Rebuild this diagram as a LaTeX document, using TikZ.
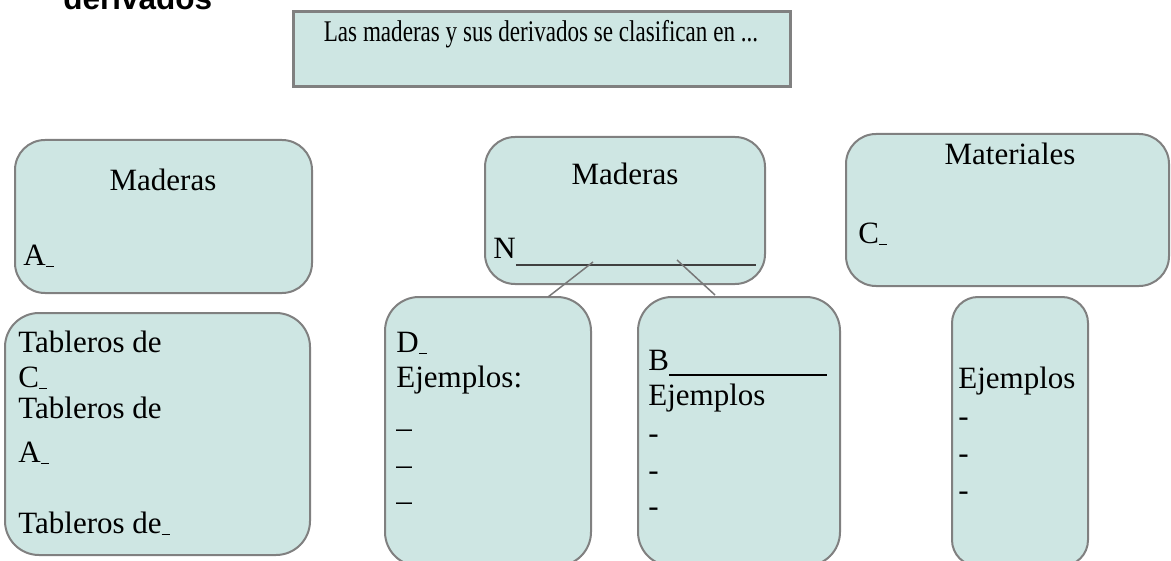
\documentclass[tikz,border=0pt]{standalone}
\usepackage{graphicx}
\usepackage{fontspec}
\setmainfont{Liberation Serif}
\newfontfamily\headfont{Liberation Sans}
\usetikzlibrary{fit}
\definecolor{boxfill}{RGB}{206,230,227}
\definecolor{boxline}{RGB}{128,128,128}
\definecolor{linkgray}{RGB}{120,120,120}
\newcommand{\gapline}[1]{\rule[-1pt]{#1}{0.75pt}}

\begin{document}
\begin{tikzpicture}[x=0.5pt,y=-0.5pt,font=\fontsize{15.5}{18}\selectfont,
  rbox/.style={draw=boxline,fill=boxfill,line width=1pt,rounded corners=#1,inner sep=0pt},
  rbox/.default=15pt,
  txt/.style={anchor=base west,inner sep=0pt},
  head/.style={anchor=base,inner sep=0pt},
  link/.style={draw=linkgray,line width=0.75pt}]
\fill[white] (0,0) rectangle (1171,561);
\useasboundingbox (0,0) rectangle (1171,561);
% title, cut off at the top edge
\node[txt,font=\headfont\bfseries\fontsize{15.75}{18}\selectfont] (title) at (63,10) {derivados};
% question box
\node[draw=boxline,fill=boxfill,line width=1.5pt,inner sep=0pt,fit={(293,12)(790,87)}] (quest) {};
\node[head,font=\fontsize{15}{18}\selectfont] (questT) at (541,42) {\scalebox{0.77}[1]{Las maderas y sus derivados se clasifican en ...}};
% upper row
\node[rbox,fit={(15,140)(312,293)}] (madA) {};
\node[head] (madAT) at (163,191) {Maderas};
\node[txt] (madAL) at (23,265) {A\gapline{4pt}};
\node[rbox,fit={(485,137)(765,284)}] (madN) {};
\node[head] (madNT) at (625,185) {Maderas};
\node[txt] (madNL) at (493,258) {N\textcolor{darkgray}{\rule[-4pt]{120pt}{1pt}}};
\node[rbox,fit={(846,134)(1169,286)}] (mater) {};
\node[head] (materT) at (1010,165) {Materiales};
\node[txt] (materL) at (858,243) {C\gapline{4pt}};
% lower row
\node[rbox=17pt,fit={(5,313)(310,555)}] (tabl) {};
\node[txt] (tabl1) at (18,352) {Tableros de};
\node[txt] (tabl2) at (18,387) {C\gapline{4pt}};
\node[txt] (tabl3) at (18,418) {Tableros de};
\node[txt] (tabl4) at (18,462) {A\gapline{4pt}};
\node[txt] (tabl5) at (18,533) {Tableros de\gapline{4pt}};
\node[rbox=17pt,fit={(385,297)(591,566)}] (ejD) {};
\node[txt] (ejD1) at (396,352) {D\gapline{4pt}};
\node[txt] (ejD2) at (396,387) {Ejemplos:};
\foreach \y/\n in {427/a,464/b,500/c}{\node[txt] (ejD\n) at (396,\y) {\_};}
\node[rbox=17pt,fit={(638,297)(840,566)}] (ejB) {};
\node[txt] (ejB1) at (648,370) {B\rule[-3pt]{79pt}{0.9pt}};
\node[txt] (ejB2) at (648,405) {Ejemplos};
\foreach \y/\n in {443/a,480/b,516/c}{\node[txt] (ejB\n) at (648,\y) {-};}
\node[rbox=13pt,fit={(952,297)(1088,566)}] (ejM) {};
\node[txt] (ejM1) at (958,388) {Ejemplos};
\foreach \y/\n in {426/a,463/b,500/c}{\node[txt] (ejM\n) at (958,\y) {-};}
% links from N to the two kinds
\coordinate (nL) at (593,262);
\coordinate (dTop) at (548,297);
\coordinate (nR) at (677,260);
\coordinate (bTop) at (715,295);
\draw[link] (nL) -- (dTop);
\draw[link] (nR) -- (bTop);
\end{tikzpicture}
\end{document}
